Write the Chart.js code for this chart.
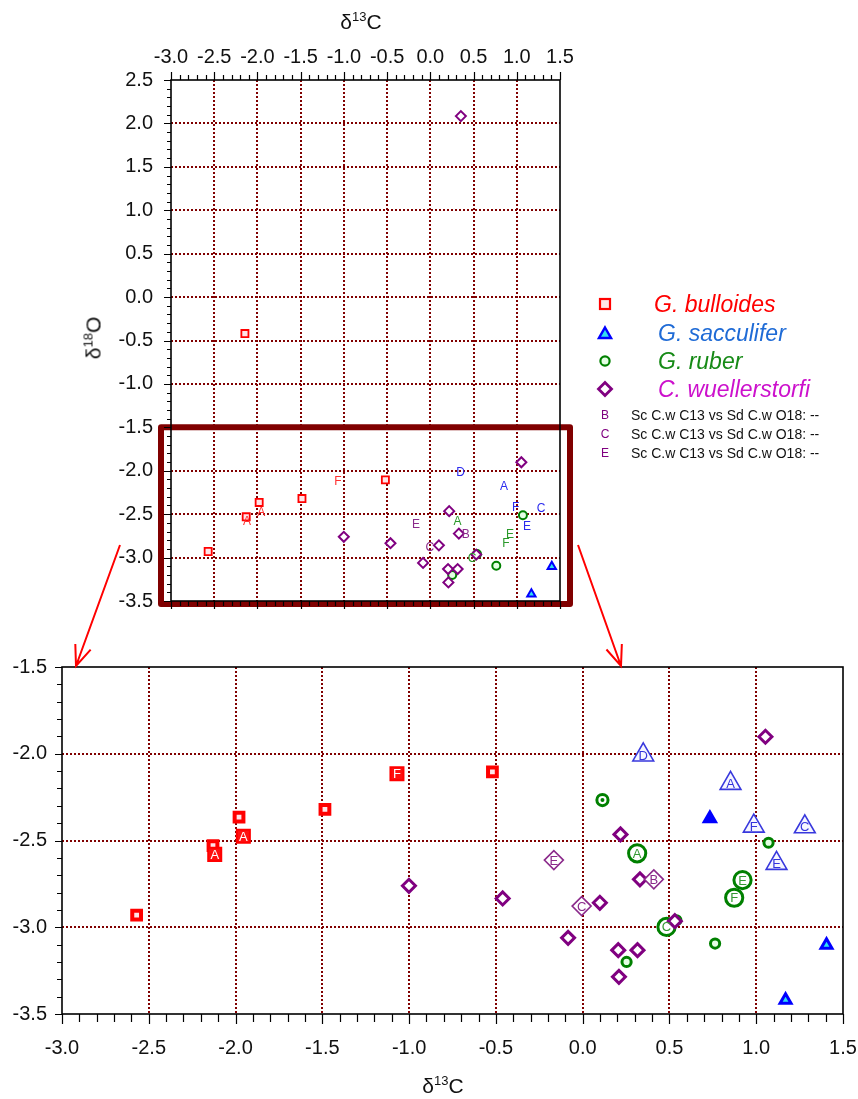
<!DOCTYPE html>
<html>
<head>
<meta charset="utf-8">
<script src="https://cdn.jsdelivr.net/npm/chart.js@4.4.1/dist/chart.umd.min.js"></script>
<style>
  body { margin: 0; background: #fff; font-family: 'Liberation Sans', Arial, sans-serif; }
  #page { position: relative; width: 858px; height: 1099px; overflow: hidden; }
  canvas { position: absolute; left: 0; }
  .t { position: absolute; white-space: nowrap; color: #111; line-height: 1; transform: translate(-50%, -50%); }
  .t sup { font-size: 13px; position: relative; top: -8px; vertical-align: baseline; }
  .lg { position: absolute; }
  .lt { position: absolute; white-space: nowrap; line-height: 1; transform: translateY(-50%); }
  .sp { font-size: 23px; font-style: italic; }
  .sm { font-size: 14px; color: #111; }
  .lk { font-size: 12px; color: #800080; transform: translate(-50%, -50%); }
</style>
</head>
<body>
<div id="page">
  <canvas id="overview" width="858" height="615" style="top:0"></canvas>
  <canvas id="zoomed" width="858" height="430" style="top:640px"></canvas>
  <canvas id="arrows" width="858" height="1099" style="top:0;pointer-events:none"></canvas>

  <div class="t" style="left:361px;top:21px;font-size:21px">δ<sup>13</sup>C</div>
  <div class="t" style="left:93px;top:338px;font-size:21px;transform:translate(-50%,-50%) rotate(-90deg)">δ<sup>18</sup>O</div>
  <div class="t" style="left:443px;top:1085px;font-size:21px">δ<sup>13</sup>C</div>

  <svg class="lg" style="left:597px;top:296px" width="16" height="16"><rect x="3" y="3" width="10" height="10" fill="#ffe4e8" stroke="#ff0000" stroke-width="2.2"/></svg>
  <svg class="lg" style="left:597px;top:325px" width="16" height="16"><polygon points="8,2.5 14,13 2,13" fill="#30e0f0" stroke="#0000ff" stroke-width="2.4" stroke-linejoin="miter"/></svg>
  <svg class="lg" style="left:597px;top:353px" width="16" height="16"><circle cx="8" cy="8" r="4.6" fill="#e4ffe4" stroke="#008000" stroke-width="2.2"/></svg>
  <svg class="lg" style="left:595px;top:379px" width="20" height="20"><polygon points="10,3.5 16.5,10 10,16.5 3.5,10" fill="#fff" stroke="#800080" stroke-width="2.8"/></svg>

  <div class="lt sp" style="left:654px;top:304px;color:#ff0000">G. bulloides</div>
  <div class="lt sp" style="left:658px;top:333px;color:#1f6bd6">G. sacculifer</div>
  <div class="lt sp" style="left:658px;top:361px;color:#168a16">G. ruber</div>
  <div class="lt sp" style="left:658px;top:389px;color:#cc11cc">C. wuellerstorfi</div>

  <div class="lt lk" style="left:605px;top:415px">B</div>
  <div class="lt lk" style="left:605px;top:434px">C</div>
  <div class="lt lk" style="left:605px;top:453px">E</div>
  <div class="lt sm" style="left:631px;top:415px">Sc C.w C13 vs Sd C.w O18: --</div>
  <div class="lt sm" style="left:631px;top:434px">Sc C.w C13 vs Sd C.w O18: --</div>
  <div class="lt sm" style="left:631px;top:453px">Sc C.w C13 vs Sd C.w O18: --</div>
</div>

<script>
const fontFamily = "'Liberation Sans', Arial, sans-serif";

// axis ranges (d13C on x, d18O on y)
const xMin = -3.0, xMax = 1.5;
const yMinAll = -3.5, yMaxAll = 2.5;
const yMinZoom = -3.5, yMaxZoom = -1.5;

// G. bulloides
const bullX   = [-2.57, -1.98, -1.485, -2.13, -0.52, -2.145, -1.07, -1.955, -2.12];
const bullY   = [-2.93, -2.365, -2.32, -2.53, -2.105, -0.42, -2.115, -2.475, -2.58];
const bullLab = ['', '', '', '', '', '', 'F', 'A', 'A'];

// G. sacculifer
const saccX   = [1.405, 1.169, 0.349, 0.852, 0.986, 1.28, 1.117];
const saccY   = [-3.103, -3.42, -2.007, -2.171, -2.417, -2.421, -2.632];
const saccLab = ['', '', 'D', 'A', 'F', 'C', 'E'];

// G. ruber
const ruberX   = [1.071, 0.763, 0.253, 0.54, 0.314, 0.921, 0.873, 0.483];
const ruberY   = [-2.513, -3.094, -3.2, -2.96, -2.574, -2.728, -2.83, -2.998];
const ruberLab = ['', '', '', '', 'A', 'E', 'F', 'C'];

// C. wuellerstorfi
const wuelX   = [0.353, 1.053, 0.218, 0.33, -1.001, -0.461, 0.099, 0.531, -0.084, 0.205, 0.316, 0.209, -0.166, 0.41, -0.006];
const wuelY   = [2.084, -1.902, -2.465, -2.724, -2.761, -2.834, -2.859, -2.965, -3.061, -3.132, -3.132, -3.286, -2.613, -2.724, -2.878];
const wuelLab = ['', '', '', '', '', '', '', '', '', '', '', '', 'E', 'B', 'C'];

// points with a filled centre, shown only in the enlarged panel
const ruberDotX = [0.114];
const ruberDotY = [-2.267];
const saccDotX  = [0.733];
const saccDotY  = [-2.373];

const species = [
  { xs: wuelX, ys: wuelY, labs: wuelLab, style: 'rectRot', stroke: '#800080', fill: '#ffffff', letter: '#8b2a8b',
    small: [5, 2], plain: [6.5, 3], big: [9.5, 1.6, '#ffffff', '#8b2a8b', '#8b2a8b'] },
  { xs: bullX, ys: bullY, labs: bullLab, style: 'rect', stroke: '#ff0000', fill: '#ffe4e8', letter: '#ff3030',
    small: [5, 1.8], plain: [6.2, 4], big: [9.2, 2, '#ff1010', '#ffffff', '#ff0000'] },
  { xs: saccX, ys: saccY, labs: saccLab, style: 'triangle', stroke: '#0000ff', fill: '#30e0f0', letter: '#2a2aee',
    small: [4.8, 2], plain: [6.3, 3], big: [12, 1.6, '#f6f6ff', '#3333dd', '#3838dd'] },
  { xs: ruberX, ys: ruberY, labs: ruberLab, style: 'circle', stroke: '#008000', fill: '#e4ffe4', letter: '#2a992a',
    small: [4, 2], plain: [4.6, 3], big: [8.6, 3, '#ffffff', '#339933', '#008000'] }
];

function pick(s, lettered) {
  const data = [], letters = [];
  s.xs.forEach((x, i) => {
    if (!!s.labs[i] === lettered) { data.push({ x, y: s.ys[i] }); letters.push(s.labs[i]); }
  });
  return { data, letters };
}

function overviewSets() {
  const out = [];
  species.forEach(s => {
    const p = pick(s, false), l = pick(s, true);
    out.push({ data: p.data, pointStyle: s.style, pointRadius: s.small[0], borderWidth: s.small[1],
      borderColor: s.stroke, backgroundColor: s.fill });
    out.push({ data: l.data, letters: l.letters, letterColor: s.letter, letterFont: '12px ' + fontFamily,
      pointRadius: 0, borderWidth: 0 });
  });
  return out;
}

function zoomSets() {
  const out = [];
  species.forEach(s => {
    const p = pick(s, false), l = pick(s, true);
    out.push({ data: l.data, letters: l.letters, letterColor: s.big[3], letterFont: '13px ' + fontFamily,
      pointStyle: s.style, pointRadius: s.big[0], borderWidth: s.big[1], borderColor: s.big[4], backgroundColor: s.big[2] });
    out.push({ data: p.data, pointStyle: s.style, pointRadius: s.plain[0], borderWidth: s.plain[1],
      borderColor: s.stroke, backgroundColor: s.fill });
  });
  const ruberDot = ruberDotX.map((x, i) => ({ x, y: ruberDotY[i] }));
  const saccDot = saccDotX.map((x, i) => ({ x, y: saccDotY[i] }));
  out.push({ data: ruberDot, pointStyle: 'circle', pointRadius: 2, borderWidth: 0, backgroundColor: '#008000' });
  out.push({ data: ruberDot, pointStyle: 'circle', pointRadius: 5.6, borderWidth: 3, borderColor: '#008000', backgroundColor: '#ffffff' });
  out.push({ data: saccDot, pointStyle: 'triangle', pointRadius: 6.5, borderWidth: 3, borderColor: '#0000ff', backgroundColor: '#0000ff' });
  return out;
}

const isMajor = v => Math.abs(v * 2 - Math.round(v * 2)) < 1e-6;
const fmt = v => (Math.abs(v) < 1e-9 ? 0 : v).toFixed(1);

function axis(position, min, max, pad, size) {
  const horiz = position === 'top' || position === 'bottom';
  return {
    type: 'linear', position, min, max,
    afterFit: s => {
      if (horiz) s.height = size; else s.width = size;
      // no extra room for overhanging labels, the layout padding handles it
      s.paddingLeft = s.paddingRight = s.paddingTop = s.paddingBottom = 0;
    },
    ticks: {
      stepSize: 0.1, autoSkip: false, maxRotation: 0, minRotation: 0, padding: pad, color: '#111',
      font: { family: fontFamily, size: 20 },
      callback: v => isMajor(v) ? fmt(v) : ''
    },
    grid: {
      drawTicks: false, lineWidth: 2,
      color: c => (c.tick && isMajor(c.tick.value) && c.tick.value > min + 1e-6 && c.tick.value < max - 1e-6)
        ? '#800000' : 'rgba(0,0,0,0)'
    },
    border: { display: false, dash: [2, 2] }
  };
}

// tick marks (longer at 0.5 steps) and the frame
const tickMarks = {
  id: 'tickMarks',
  afterDraw(chart, args, o) {
    const { ctx, chartArea: a, scales: { x, y } } = chart;
    ctx.save();
    ctx.strokeStyle = '#000';
    ctx.lineWidth = 1.2;
    ctx.beginPath();
    x.ticks.forEach(t => {
      const px = Math.round(x.getPixelForValue(t.value)) + 0.5;
      const len = isMajor(t.value) ? o.xMajor : o.xMinor;
      o.xSides.forEach(side => {
        const y0 = side === 'top' ? a.top : a.bottom;
        const d = side === 'top' ? -1 : 1;
        ctx.moveTo(px, y0); ctx.lineTo(px, y0 + d * len);
      });
    });
    y.ticks.forEach(t => {
      const py = Math.round(y.getPixelForValue(t.value)) + 0.5;
      const len = isMajor(t.value) ? o.yMajor : o.yMinor;
      ctx.moveTo(a.left, py); ctx.lineTo(a.left - len, py);
    });
    ctx.stroke();
    ctx.lineWidth = 1.6;
    ctx.strokeRect(a.left, a.top, a.right - a.left, a.bottom - a.top);
    ctx.restore();
  }
};

// letters written at the point positions
const pointLetters = {
  id: 'pointLetters',
  afterDatasetsDraw(chart) {
    const ctx = chart.ctx;
    ctx.save();
    ctx.textAlign = 'center';
    ctx.textBaseline = 'middle';
    chart.data.datasets.forEach((ds, i) => {
      if (!ds.letters) return;
      ctx.fillStyle = ds.letterColor;
      ctx.font = ds.letterFont;
      chart.getDatasetMeta(i).data.forEach((pt, j) => ctx.fillText(ds.letters[j], pt.x, pt.y + 1));
    });
    ctx.restore();
  }
};

// box marking the enlarged region
const zoomBox = {
  id: 'zoomBox',
  afterDraw(chart) {
    const { ctx, chartArea: a, scales: { y } } = chart;
    const top = y.getPixelForValue(yMaxZoom);
    ctx.save();
    ctx.strokeStyle = '#800000';
    ctx.lineWidth = 6;
    ctx.lineJoin = 'round';
    ctx.strokeRect(a.left - 10, top, a.right - a.left + 20, a.bottom + 3 - top);
    ctx.restore();
  }
};

const common = {
  responsive: false,
  animation: false,
  devicePixelRatio: 1,
  events: [],
  plugins: { legend: { display: false }, tooltip: { enabled: false } }
};

new Chart(document.getElementById('overview'), {
  type: 'scatter',
  data: { datasets: overviewSets() },
  options: {
    ...common,
    layout: { padding: { left: 0, top: 0, right: 298, bottom: 14 } },
    scales: {
      x: axis('top', xMin, xMax, 11, 80),
      y: axis('left', yMinAll, yMaxAll, 18, 171)
    },
    plugins: { ...common.plugins,
      tickMarks: { xSides: ['top', 'bottom'], xMajor: 8, xMinor: 5, yMajor: 7, yMinor: 4 } }
  },
  plugins: [pointLetters, zoomBox, tickMarks]
});

new Chart(document.getElementById('zoomed'), {
  type: 'scatter',
  data: { datasets: zoomSets() },
  options: {
    ...common,
    layout: { padding: { left: 0, top: 27, right: 15, bottom: 0 } },
    scales: {
      x: axis('bottom', xMin, xMax, 22, 56),
      y: axis('left', yMinZoom, yMaxZoom, 15, 62)
    },
    plugins: { ...common.plugins,
      tickMarks: { xSides: ['bottom'], xMajor: 10, xMinor: 8, yMajor: 7, yMinor: 5 } }
  },
  plugins: [pointLetters, tickMarks]
});

// red arrows from the box to the enlarged panel
const actx = document.getElementById('arrows').getContext('2d');
function arrow(x0, y0, x1, y1) {
  const ang = Math.atan2(y1 - y0, x1 - x0), head = 22, spread = 0.38;
  actx.beginPath();
  actx.moveTo(x0, y0); actx.lineTo(x1, y1);
  actx.moveTo(x1 - head * Math.cos(ang - spread), y1 - head * Math.sin(ang - spread));
  actx.lineTo(x1, y1);
  actx.lineTo(x1 - head * Math.cos(ang + spread), y1 - head * Math.sin(ang + spread));
  actx.stroke();
}
actx.strokeStyle = '#ff0000';
actx.lineWidth = 2;
arrow(120, 545, 76, 666);
arrow(578, 545, 621, 666);
</script>
</body>
</html>
